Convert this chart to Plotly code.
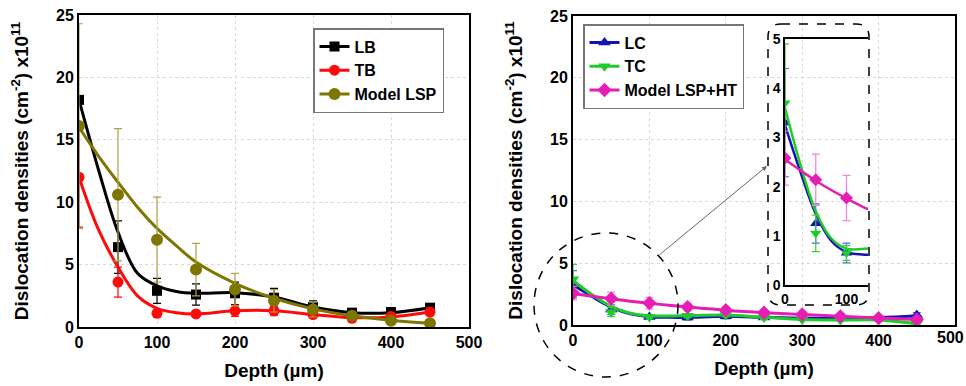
import plotly.graph_objects as go

# ---------------- data ----------------
depth = [0, 50, 100, 150, 200, 250, 300, 350, 400, 450]

LB = [18.2, 6.4, 2.9, 2.6, 2.7, 2.35, 1.6, 1.15, 1.2, 1.55]
LB_err = [0.3, 2.1, 1.0, 0.85, 0.9, 0.75, 0.5, 0.2, 0.25, 0.3]
TB = [12.0, 3.6, 1.1, 1.05, 1.3, 1.3, 1.0, 0.7, 0.85, 1.2]
TB_err = [4.0, 1.2, 0.3, 0.25, 0.45, 0.4, 0.3, 0.2, 0.25, 0.3]
LSP = [16.1, 10.6, 7.0, 4.6, 3.0, 2.1, 1.4, 0.9, 0.5, 0.3]
LSP_err = [8.2, 5.3, 3.4, 2.1, 1.3, 0.9, 0.6, 0.3, 0.2, 0.1]

LC = [3.3, 1.25, 0.65, 0.6, 0.7, 0.6, 0.6, 0.55, 0.6, 0.8]
LC_err = [1.1, 0.4, 0.2, 0.2, 0.2, 0.15, 0.15, 0.15, 0.15, 0.2]
TC = [3.7, 1.05, 0.65, 0.75, 0.8, 0.6, 0.45, 0.4, 0.45, 0.1]
TC_err = [1.2, 0.37, 0.15, 0.15, 0.15, 0.15, 0.1, 0.1, 0.1, 0.1]
HT = [2.58, 2.14, 1.77, 1.45, 1.2, 1.0, 0.85, 0.7, 0.55, 0.45]
HT_err = [0.55, 0.52, 0.46, 0.3, 0.25, 0.2, 0.15, 0.15, 0.1, 0.1]

# fitted (smoothed) curves as drawn in the picture
fit_depth = [0, 25, 50, 75, 100, 125, 150, 200, 250, 300, 350, 400, 450]
LB_fit = [18.2, 12.6, 7.6, 4.3, 3.3, 2.85, 2.7, 2.75, 2.4, 1.6, 1.15, 1.15, 1.55]
TB_fit = [12.0, 7.8, 4.8, 2.5, 1.5, 1.15, 1.05, 1.3, 1.3, 1.0, 0.75, 0.8, 1.2]
LSP_fit = [16.0, 13.7, 11.6, 9.6, 7.9, 6.5, 5.2, 3.5, 2.3, 1.45, 0.9, 0.55, 0.3]
LC_fit = [3.25, 2.3, 1.45, 0.9, 0.67, 0.62, 0.62, 0.7, 0.62, 0.55, 0.55, 0.6, 0.75]
TC_fit = [3.6, 2.45, 1.5, 0.95, 0.74, 0.73, 0.76, 0.8, 0.62, 0.45, 0.4, 0.4, 0.1]
HT_fit = [2.55, 2.33, 2.12, 1.93, 1.76, 1.6, 1.46, 1.2, 1.0, 0.85, 0.7, 0.57, 0.45]

x_ticks = [0, 100, 200, 300, 400, 500]
y_ticks = [0, 5, 10, 15, 20, 25]
inset_x_ticks = [0, 100]
inset_y_ticks = [0, 1, 2, 3, 4, 5]

# ---------------- styling ----------------
W, H = 966, 386
FONT = "Arial, Liberation Sans, sans-serif"

BLACK = "#000000"
RED = "#ff0a0a"
OLIVE = "#7d7600"
OLIVE_ERR = "#aca34a"
BLUE = "#1414b4"
BLUE_ERR = "#4a6ed8"
GREEN = "#1ecb2a"
GREEN_ERR = "#3ccc3c"
MAGENTA = "#e61eb4"
MAGENTA_ERR = "#f582dc"


def px_x(p):
    return p / W


def px_y(p):
    return (H - p) / H


fig = go.Figure()

series_left = [
    ("LB", LB, LB_err, LB_fit, BLACK, BLACK, "square", 10),
    ("TB", TB, TB_err, TB_fit, RED, RED, "circle", 11),
    ("Model LSP", LSP, LSP_err, LSP_fit, OLIVE, OLIVE_ERR, "circle", 12),
]
series_right = [
    ("LC", LC, LC_err, LC_fit, BLUE, BLUE_ERR, "triangle-up", 11),
    ("TC", TC, TC_err, TC_fit, GREEN, GREEN_ERR, "triangle-down", 11),
    ("Model LSP+HT", HT, HT_err, HT_fit, MAGENTA, MAGENTA_ERR, "diamond", 11),
]


def add_series(series, xa, ya, legend, show_legend, inset=False):
    for name, vals, errs, fit, col, ecol, sym, msz in series:
        lw = 2.5 if inset else 3
        ms = msz - 1 if inset else msz
        fig.add_trace(go.Scatter(
            x=fit_depth, y=fit, mode="lines",
            line=dict(color=col, width=lw, shape="spline", smoothing=1.0),
            xaxis=xa, yaxis=ya, showlegend=False, hoverinfo="skip"))
        fig.add_trace(go.Scatter(
            x=depth, y=vals, mode="markers",
            marker=dict(color=col, size=ms, symbol=sym),
            error_y=dict(type="data", array=errs, color=ecol,
                         thickness=1.2, width=4),
            xaxis=xa, yaxis=ya, showlegend=False, name=name))
        if show_legend:
            fig.add_trace(go.Scatter(
                x=[None], y=[None], mode="lines+markers", name=name,
                line=dict(color=col, width=3),
                marker=dict(color=col, size=msz, symbol=sym),
                xaxis=xa, yaxis=ya, legend=legend, showlegend=True))


add_series(series_left, "x", "y", "legend", True)
add_series(series_right, "x2", "y2", "legend2", True)
add_series(series_right, "x3", "y3", "legend2", False, inset=True)

tickfont = dict(family=FONT, size=16, color="black", weight="bold")
titlefont = dict(family=FONT, size=19, color="black", weight="bold")
insetfont = dict(family=FONT, size=14, color="black", weight="bold")

GRID = "#d9d9d9"
common_x = dict(range=[0, 500], tickvals=x_ticks, showline=True, mirror=True,
                linecolor="black", linewidth=2, showgrid=True,
                gridcolor=GRID, griddash="dot", gridwidth=1,
                zeroline=False, ticks="", tickfont=tickfont,
                automargin=False)
common_y = dict(range=[0, 25], tickvals=y_ticks, showline=True, mirror=True,
                linecolor="black", linewidth=2, showgrid=True,
                gridcolor=GRID, griddash="dot", gridwidth=1,
                zeroline=False, ticks="", tickfont=tickfont,
                automargin=False)

ytitle = "Dislocation densities (cm<sup>-2</sup>) x10<sup>11</sup>"

legend_font = dict(family=FONT, size=16, color="black", weight="bold")

fig.update_layout(
    width=W, height=H,
    margin=dict(l=0, r=0, t=0, b=0),
    paper_bgcolor="white", plot_bgcolor="rgba(0,0,0,0)",
    font=dict(family=FONT, color="black", weight="bold"),
    xaxis=dict(common_x, domain=[px_x(79), px_x(469)], anchor="y",
               title=dict(text="Depth (\u00b5m)", font=titlefont, standoff=13)),
    yaxis=dict(common_y, domain=[px_y(327), px_y(15)], anchor="x",
               title=dict(text=ytitle, font=titlefont, standoff=22)),
    xaxis2=dict(common_x, domain=[px_x(573), px_x(955)], anchor="y2",
                title=dict(text="Depth (\u00b5m)", font=titlefont, standoff=13)),
    yaxis2=dict(common_y, domain=[px_y(325), px_y(16)], anchor="x2",
                title=dict(text=ytitle, font=titlefont, standoff=22)),
    xaxis3=dict(range=[0, 135], tickvals=inset_x_ticks, showline=True,
                mirror=True, linecolor="black", linewidth=1.5,
                showgrid=False, zeroline=False, ticks="",
                tickfont=insetfont,
                domain=[px_x(785), px_x(868)], anchor="y3", automargin=False),
    yaxis3=dict(range=[0, 5], tickvals=inset_y_ticks, showline=True,
                mirror=False, linecolor="black", linewidth=1.5,
                showgrid=False, zeroline=False, ticks="",
                tickfont=insetfont,
                domain=[px_y(285), px_y(39)], anchor="x3", automargin=False),
    legend=dict(x=px_x(313), y=px_y(28), xanchor="left", yanchor="top",
                bgcolor="white", bordercolor="#777777", borderwidth=1.5,
                font=legend_font, tracegroupgap=0, itemwidth=30),
    legend2=dict(x=px_x(583), y=px_y(24), xanchor="left", yanchor="top",
                 bgcolor="white", bordercolor="#777777", borderwidth=1.5,
                 font=legend_font, tracegroupgap=0, itemwidth=30),
)

# right-most tick label of the right panel (sits at the picture edge)
fig.add_annotation(xref="paper", yref="paper", x=1.0, y=px_y(327),
                   xanchor="right", yanchor="top", text="500",
                   showarrow=False, font=tickfont)

# dashed circle around the low-depth region (right panel)
cx, cy, r = 606, 305, 72
fig.add_shape(type="circle", xref="paper", yref="paper",
              x0=px_x(cx - r), x1=px_x(cx + r),
              y0=px_y(cy + r), y1=px_y(cy - r),
              line=dict(color="black", width=1.5, dash="dash"))

# dashed rounded rectangle around the inset
bx0, bx1, by0, by1, rr = 768, 869, 24, 305, 13
path = (
    f"M {px_x(bx0 + rr)},{px_y(by0)} L {px_x(bx1 - rr)},{px_y(by0)} "
    f"Q {px_x(bx1)},{px_y(by0)} {px_x(bx1)},{px_y(by0 + rr)} "
    f"L {px_x(bx1)},{px_y(by1 - rr)} "
    f"Q {px_x(bx1)},{px_y(by1)} {px_x(bx1 - rr)},{px_y(by1)} "
    f"L {px_x(bx0 + rr)},{px_y(by1)} "
    f"Q {px_x(bx0)},{px_y(by1)} {px_x(bx0)},{px_y(by1 - rr)} "
    f"L {px_x(bx0)},{px_y(by0 + rr)} "
    f"Q {px_x(bx0)},{px_y(by0)} {px_x(bx0 + rr)},{px_y(by0)} Z"
)
fig.add_shape(type="path", xref="paper", yref="paper", path=path,
              line=dict(color="black", width=1.5, dash="dash"))

# arrow from circle to inset
fig.add_annotation(xref="paper", yref="paper", x=px_x(767), y=px_y(166),
                   ax=658 - 767, ay=256 - 166, text="", showarrow=True,
                   arrowhead=2, arrowsize=1, arrowwidth=1,
                   arrowcolor="#666666")

fig.write_html("out.html",
               config={"displayModeBar": False},
               post_script="document.body.style.margin='0px';")
